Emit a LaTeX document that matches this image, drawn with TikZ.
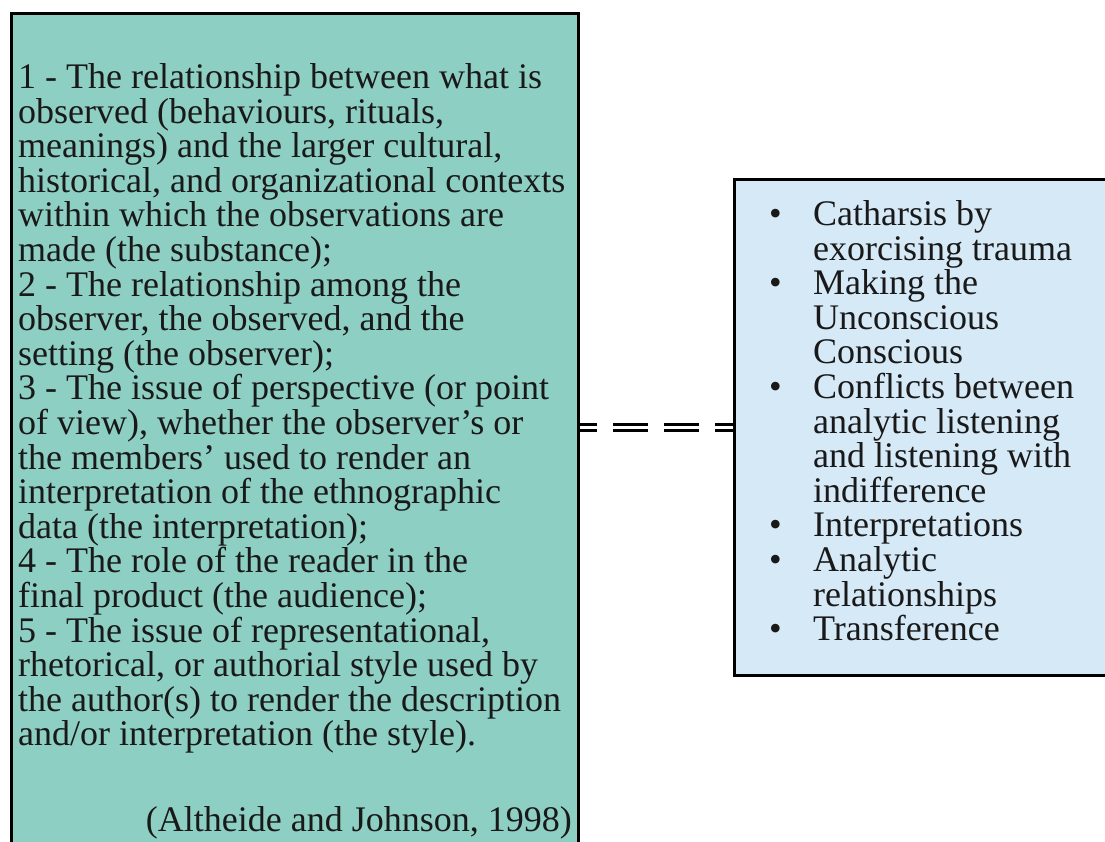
\documentclass[tikz,border=0pt]{standalone}
\usepackage{fontspec}
\setmainfont{Liberation Serif}
\definecolor{tealbox}{RGB}{142,207,196}
\definecolor{bluebox}{RGB}{214,233,247}
\newcommand{\bul}{\makebox[44pt][l]{\textbullet}}
\newcommand{\ind}{\hspace*{44pt}}
\begin{document}
\begin{tikzpicture}[x=1pt,y=1pt,
  box/.style={draw=black, line width=3pt, inner sep=0pt, anchor=south west},
  txt/.style={inner sep=0pt, align=left, text=black!90, font=\fontsize{36}{34.6}\selectfont},
  link/.style={double=white, double distance=3pt, line width=3pt,
    dash pattern=on 35pt off 16pt, dash phase=18pt}]
\useasboundingbox (0,0) rectangle (1105,841);
\node[box, fill=tealbox, minimum width=567pt, minimum height=836pt] (left) at (10,-10) {};
\node[box, fill=bluebox, minimum width=380pt, minimum height=496pt] (right) at (733,164) {};
\draw[link] (left.east |- right.west) -- (right.west);
\node[txt, anchor=north west] (lefttext) at (18,777.6) {%
1 - The relationship between what is\\
observed (behaviours, rituals,\\
meanings) and the larger cultural,\\
historical, and organizational contexts\\
within which the observations are\\
made (the substance);\\
2 - The relationship among the\\
observer, the observed, and the\\
setting (the observer);\\
3 - The issue of perspective (or point\\
of view), whether the observer’s or\\
the members’ used to render an\\
interpretation of the ethnographic\\
data (the interpretation);\\
4 - The role of the reader in the\\
final product (the audience);\\
5 - The issue of representational,\\
rhetorical, or authorial style used by\\
the author(s) to render the description\\
and/or interpretation (the style).};
\node[txt, anchor=base east] (cite) at (572,10) {(Altheide and Johnson, 1998)};
\node[txt, anchor=north west] (righttext) at (769,640.6) {%
\bul Catharsis by\\
\ind exorcising trauma\\
\bul Making the\\
\ind Unconscious\\
\ind Conscious\\
\bul Conflicts between\\
\ind analytic listening\\
\ind and listening with\\
\ind indifference\\
\bul Interpretations\\
\bul Analytic\\
\ind relationships\\
\bul Transference};
\end{tikzpicture}
\end{document}
